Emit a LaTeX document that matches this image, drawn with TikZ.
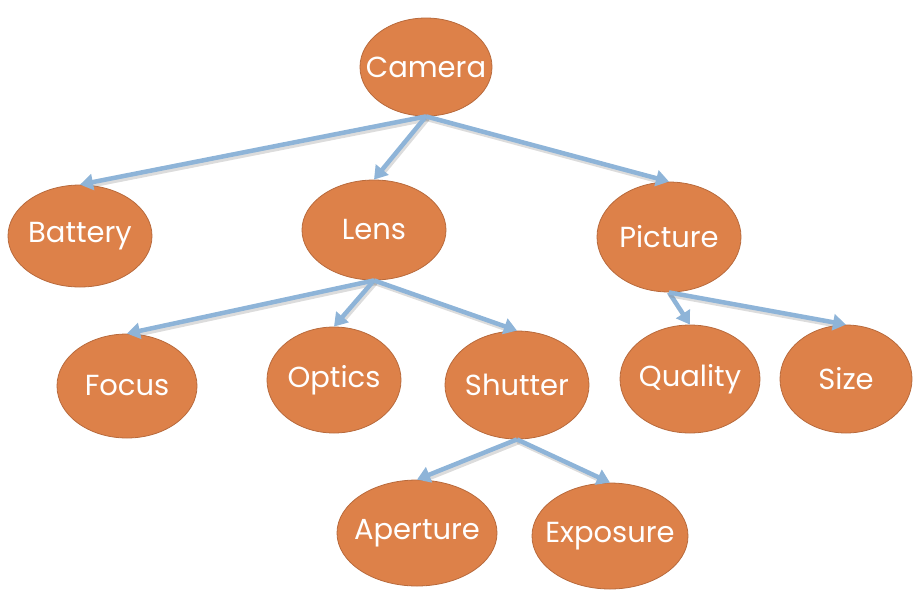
\documentclass[tikz,border=0pt]{standalone}
\usepackage{fontspec}
\setmainfont{Poppins}
\usetikzlibrary{shapes.geometric,arrows.meta}
\definecolor{nodefill}{HTML}{DD8149}
\definecolor{nodeedge}{HTML}{B86A3C}
\definecolor{linkblue}{HTML}{8EB4D8}
\tikzset{
  topic/.style={ellipse, draw=nodeedge, line width=0.8pt, fill=nodefill,
    inner sep=0pt},
  caption/.style={text=white, inner sep=0pt, font=\fontsize{29}{31}\selectfont},
  linkshade/.style={draw=black!45, opacity=0.3, line width=4pt, line cap=round},
  link/.style={draw=linkblue, line width=4.5pt,
    -{Triangle[width=16pt,length=13pt]}},
}
\begin{document}
\begin{tikzpicture}[x=1pt,y=-1pt]
\useasboundingbox (0,0) rectangle (915,592);
% topic ellipses
\node[topic, minimum width=132pt, minimum height=98pt]  (camera)   at (426,67)  {};
\node[topic, minimum width=144pt, minimum height=102pt] (battery)  at (80,236)  {};
\node[topic, minimum width=144pt, minimum height=100pt] (lens)     at (374,230) {};
\node[topic, minimum width=144pt, minimum height=110pt] (picture)  at (669,237) {};
\node[topic, minimum width=140pt, minimum height=104pt] (focus)    at (127,386) {};
\node[topic, minimum width=134pt, minimum height=106pt] (optics)   at (334,380) {};
\node[topic, minimum width=144pt, minimum height=108pt] (shutter)  at (517,385) {};
\node[topic, minimum width=140pt, minimum height=108pt] (quality)  at (690,379) {};
\node[topic, minimum width=132pt, minimum height=108pt] (size)     at (846,379) {};
\node[topic, minimum width=160pt, minimum height=106pt] (aperture) at (417,533) {};
\node[topic, minimum width=156pt, minimum height=106pt] (exposure) at (610,536) {};
% their captions
\node[caption] (cameraT)   at (camera)   {Camera};
\node[caption] (batteryT)  at (battery)  {Battery};
\node[caption] (lensT)     at (lens)     {Lens};
\node[caption] (pictureT)  at (picture)  {Picture};
\node[caption] (focusT)    at (focus)    {Focus};
\node[caption] (opticsT)   at (optics)   {Optics};
\node[caption] (shutterT)  at (shutter)  {Shutter};
\node[caption] (qualityT)  at (quality)  {Quality};
\node[caption] (sizeT)     at (size)     {Size};
\node[caption] (apertureT) at (aperture) {Aperture};
\node[caption] (exposureT) at (exposure) {Exposure};
% connectors: soft shade, then the arrow
\foreach \p/\c in {camera/battery, camera/lens, camera/picture,
                   lens/focus, lens/optics, lens/shutter,
                   picture/quality, picture/size,
                   shutter/aperture, shutter/exposure}{
  \draw[linkshade, shorten >=12pt, transform canvas={shift={(1.5pt,-3pt)}}] (\p.south) -- (\c.north);
  \draw[link] (\p.south) -- (\c.north);
}
\end{tikzpicture}
\end{document}
